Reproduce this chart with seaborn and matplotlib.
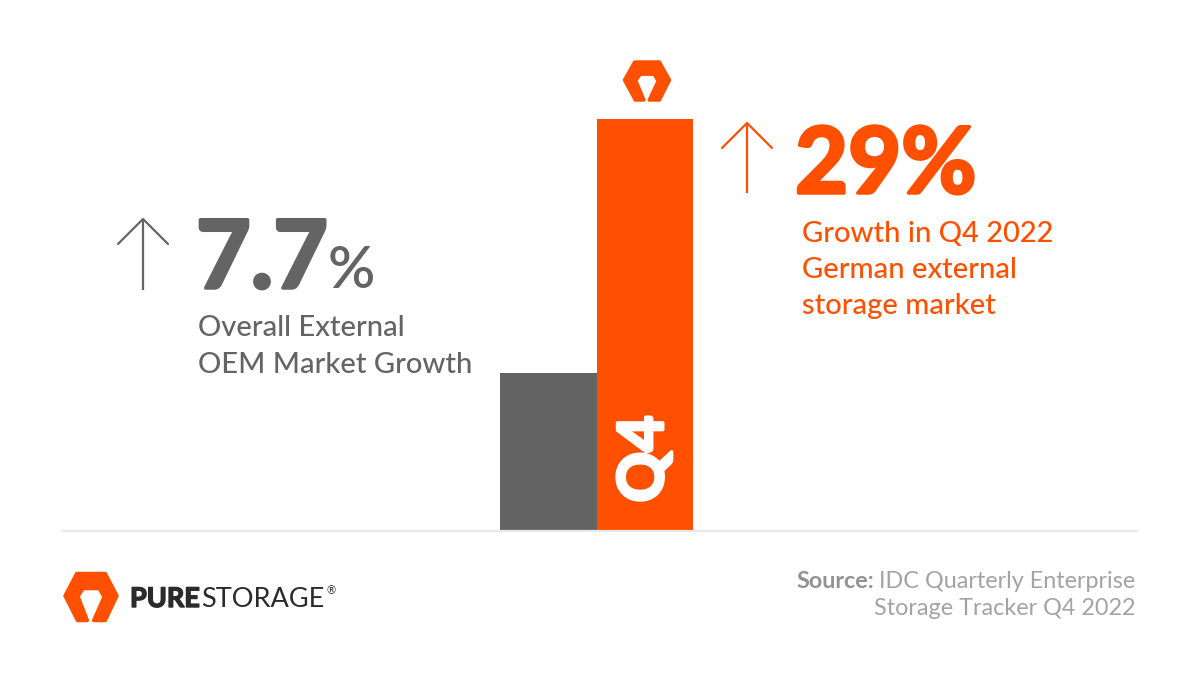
import matplotlib
matplotlib.use("Agg")
import matplotlib.pyplot as plt
import matplotlib.patheffects as pe
from matplotlib.patches import Polygon
import pandas as pd
import seaborn as sns

# data
categories = ["Overall", "Q4"]
bar_heights = [38.2, 100]   # bar lengths as drawn (the graphic is not to scale with the labels)
bar_colors = ["#636363", "#fe5000"]
overall_growth = "7.7"
q4_growth = "29%"
bar_label = "Q4"
left_caption = ["Overall External", "OEM Market Growth"]
right_caption = ["Growth in Q4 2022", "German external", "storage market"]
source_lines = ["IDC Quarterly Enterprise", "Storage Tracker Q4 2022"]

ORANGE = "#fe5000"
GRAY = "#646464"
W, H = 1200, 675

sns.set_theme(style="white")
plt.rcParams["font.family"] = ["Lato", "DejaVu Sans"]


def heavy(color, width=2.5):
    # Lato bold thickened a little, closer to the black face of the original
    return [pe.withStroke(linewidth=width, foreground=color)]


fig = plt.figure(figsize=(12, 6.75), dpi=100)
fig.patch.set_facecolor("white")
renderer = fig.canvas.get_renderer()

# bars
ax = fig.add_axes([500 / W, 1 - 530 / H, 193 / W, (530 - 119) / H])
df = pd.DataFrame({"cat": categories, "h": bar_heights})
sns.barplot(data=df, x="cat", y="h", hue="cat", palette=bar_colors,
            width=1.0, saturation=1, legend=False, ax=ax, zorder=2, linewidth=0)
ax.set_ylim(0, 100)
ax.set_xlim(-0.5, 1.5)
ax.axis("off")
ax.text(1, (530 - 459) / 411 * 100, bar_label, rotation=90, ha="center", va="center",
        color="white", fontsize=45, fontweight="bold", path_effects=heavy("white", 2.5))

# overlay in pixel coords for all the annotations
ov = fig.add_axes([0, 0, 1, 1], zorder=3)
ov.set_xlim(0, W)
ov.set_ylim(H, 0)
ov.axis("off")
ov.patch.set_alpha(0)

ov.plot([62, 1137], [531, 531], color="#e9e9e9", lw=1.6, zorder=1)


def up_arrow(x, top, bottom, color):
    ov.plot([x, x], [bottom, top], color=color, lw=1.6, solid_capstyle="butt")
    ov.plot([x - 25, x, x + 25], [top + 25, top, top + 25], color=color, lw=1.6)


def logo(cx, cy, rx, ry):
    pts = [(-1, 0.05), (-0.55, 1), (0.55, 1), (1, 0.05), (0.55, -1), (0.1, -1),
           (0.5, 0.0), (0.32, 0.36), (-0.3, 0.36), (-0.5, 0.03), (-0.14, -1),
           (-0.52, -1)]
    xy = [(cx + ux * rx, cy - uy * ry) for ux, uy in pts]
    ov.add_patch(Polygon(xy, closed=True, facecolor=ORANGE, edgecolor=ORANGE,
                         lw=2.5, joinstyle="round"))


def right_of(t):
    return t.get_window_extent(renderer).x1


# left block
up_arrow(143, 219, 290, GRAY)
t = ov.text(196, 288, overall_growth, fontsize=68, fontweight="bold",
            color=GRAY, va="baseline", path_effects=heavy(GRAY))
ov.text(right_of(t) - 1, 288, "%", fontsize=42, fontweight="semibold", color=GRAY, va="baseline")
for i, line in enumerate(left_caption):
    ov.text(198, 336 + i * 37, line, fontsize=21, fontweight="medium", color=GRAY, va="baseline")

# right block
up_arrow(747, 123, 193, ORANGE)
ov.text(795, 193, q4_growth, fontsize=66, fontweight="bold",
        color=ORANGE, va="baseline", path_effects=heavy(ORANGE))
for i, line in enumerate(right_caption):
    ov.text(802, 242 + i * 36, line, fontsize=21, fontweight="medium", color=ORANGE, va="baseline")

# logos
logo(647, 81, 22.5, 19)
logo(91, 597, 26, 23.5)
t = ov.text(130, 607, "PURE", fontsize=19.5, fontweight="bold",
            color="#2b2b2b", va="baseline", path_effects=heavy("#2b2b2b", 1.0))
t = ov.text(right_of(t) + 1, 607, "STORAGE", fontsize=19.5, fontweight="normal",
            color="#2b2b2b", va="baseline")
ov.text(right_of(t) + 2, 594, "®", fontsize=8, color="#2b2b2b", va="baseline")

# source
t = ov.text(1135, 588, source_lines[0], fontsize=16.8, color="#a3a3a3",
            ha="right", va="baseline")
x0 = t.get_window_extent(renderer).x0
ov.text(x0 - 5, 588, "Source:", fontsize=16.8, fontweight="bold", color="#929292",
        ha="right", va="baseline")
ov.text(1135, 615, source_lines[1], fontsize=16.8, color="#a3a3a3",
        ha="right", va="baseline")

fig.savefig("out.png", dpi=100)
